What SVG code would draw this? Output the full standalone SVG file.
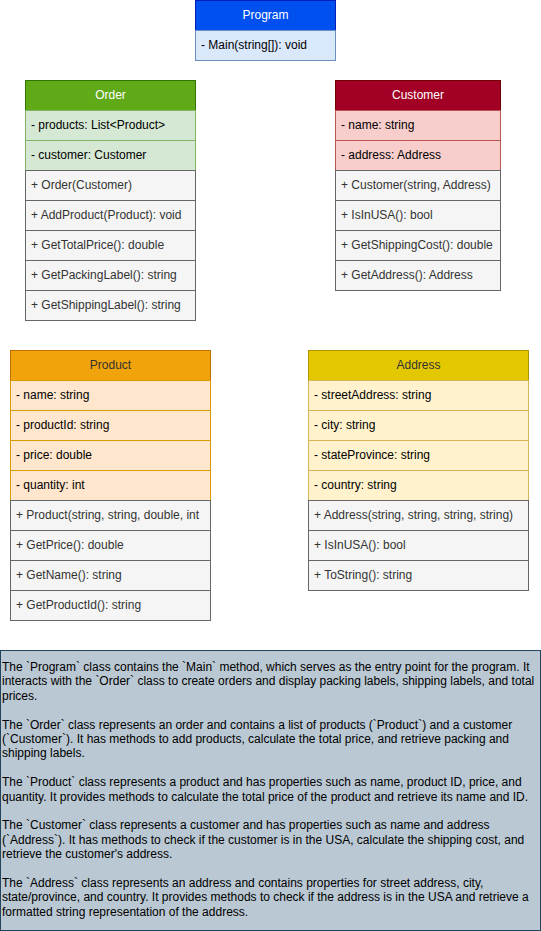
<svg xmlns="http://www.w3.org/2000/svg" width="541" height="931" viewBox="0 0 541 931">
<style>
text{font-family:"Liberation Sans",Arial,sans-serif;font-size:12px;fill:#000}
.t{text-anchor:middle}
.w{fill:#ffffff}
.d{fill:#333333}
.m{fill:#f5f5f5;stroke:#666666}
.m text{fill:#333333}
.mt{fill:#333333}
rect{stroke-width:1}
</style>
<rect width="541" height="931" fill="#ffffff"/>
<g id="connectors"/>
<g id="program">
<rect x="195.5" y="0.5" width="140" height="30" fill="#0050ef" stroke="#001dbc"/>
<rect x="195.5" y="30.5" width="140" height="30" fill="#dae8fc" stroke="#6c8ebf"/>
<text x="265.5" y="19" class="t w">Program</text>
<text x="201" y="49">- Main(string[]): void</text>
</g>
<g id="order">
<rect x="25.5" y="80.5" width="170" height="30" fill="#60a917" stroke="#2d7600"/>
<rect x="25.5" y="110.5" width="170" height="30" fill="#d5e8d4" stroke="#82b366"/>
<rect x="25.5" y="140.5" width="170" height="30" fill="#d5e8d4" stroke="#82b366"/>
<rect x="25.5" y="170.5" width="170" height="30" class="m"/>
<rect x="25.5" y="200.5" width="170" height="30" class="m"/>
<rect x="25.5" y="230.5" width="170" height="30" class="m"/>
<rect x="25.5" y="260.5" width="170" height="30" class="m"/>
<rect x="25.5" y="290.5" width="170" height="30" class="m"/>
<text x="110.5" y="99" class="t w">Order</text>
<text x="31" y="129">- products: List&lt;Product&gt;</text>
<text x="31" y="159">- customer: Customer</text>
<text x="31" y="189" class="mt">+ Order(Customer)</text>
<text x="31" y="219" class="mt">+ AddProduct(Product): void</text>
<text x="31" y="249" class="mt">+ GetTotalPrice(): double</text>
<text x="31" y="279" class="mt">+ GetPackingLabel(): string</text>
<text x="31" y="309" class="mt">+ GetShippingLabel(): string</text>
</g>
<g id="customer">
<rect x="335.5" y="80.5" width="165" height="30" fill="#a20025" stroke="#6f0000"/>
<rect x="335.5" y="110.5" width="165" height="30" fill="#f8cecc" stroke="#b85450"/>
<rect x="335.5" y="140.5" width="165" height="30" fill="#f8cecc" stroke="#b85450"/>
<rect x="335.5" y="170.5" width="165" height="30" class="m"/>
<rect x="335.5" y="200.5" width="165" height="30" class="m"/>
<rect x="335.5" y="230.5" width="165" height="30" class="m"/>
<rect x="335.5" y="260.5" width="165" height="30" class="m"/>
<text x="418" y="99" class="t w">Customer</text>
<text x="341" y="129">- name: string</text>
<text x="341" y="159">- address: Address</text>
<text x="341" y="189" class="mt">+ Customer(string, Address)</text>
<text x="341" y="219" class="mt">+ IsInUSA(): bool</text>
<text x="341" y="249" class="mt">+ GetShippingCost(): double</text>
<text x="341" y="279" class="mt">+ GetAddress(): Address</text>
</g>
<g id="product">
<rect x="10.5" y="350.5" width="200" height="30" fill="#f0a30a" stroke="#bd7000"/>
<rect x="10.5" y="380.5" width="200" height="30" fill="#ffe6cc" stroke="#d79b00"/>
<rect x="10.5" y="410.5" width="200" height="30" fill="#ffe6cc" stroke="#d79b00"/>
<rect x="10.5" y="440.5" width="200" height="30" fill="#ffe6cc" stroke="#d79b00"/>
<rect x="10.5" y="470.5" width="200" height="30" fill="#ffe6cc" stroke="#d79b00"/>
<rect x="10.5" y="500.5" width="200" height="30" class="m"/>
<rect x="10.5" y="530.5" width="200" height="30" class="m"/>
<rect x="10.5" y="560.5" width="200" height="30" class="m"/>
<rect x="10.5" y="590.5" width="200" height="30" class="m"/>
<text x="110.5" y="369" class="t d">Product</text>
<text x="16" y="399">- name: string</text>
<text x="16" y="429">- productId: string</text>
<text x="16" y="459">- price: double</text>
<text x="16" y="489">- quantity: int</text>
<text x="16" y="519" class="mt">+ Product(string, string, double, int</text>
<text x="16" y="549" class="mt">+ GetPrice(): double</text>
<text x="16" y="579" class="mt">+ GetName(): string</text>
<text x="16" y="609" class="mt">+ GetProductId(): string</text>
</g>
<g id="address">
<rect x="308.5" y="350.5" width="220" height="30" fill="#e3c800" stroke="#b09500"/>
<rect x="308.5" y="380.5" width="220" height="30" fill="#fff2cc" stroke="#d6b656"/>
<rect x="308.5" y="410.5" width="220" height="30" fill="#fff2cc" stroke="#d6b656"/>
<rect x="308.5" y="440.5" width="220" height="30" fill="#fff2cc" stroke="#d6b656"/>
<rect x="308.5" y="470.5" width="220" height="30" fill="#fff2cc" stroke="#d6b656"/>
<rect x="308.5" y="500.5" width="220" height="30" class="m"/>
<rect x="308.5" y="530.5" width="220" height="30" class="m"/>
<rect x="308.5" y="560.5" width="220" height="30" class="m"/>
<text x="418.5" y="369" class="t d">Address</text>
<text x="314" y="399">- streetAddress: string</text>
<text x="314" y="429">- city: string</text>
<text x="314" y="459">- stateProvince: string</text>
<text x="314" y="489">- country: string</text>
<text x="314" y="519" class="mt">+ Address(string, string, string, string)</text>
<text x="314" y="549" class="mt">+ IsInUSA(): bool</text>
<text x="314" y="579" class="mt">+ ToString(): string</text>
</g>
<g id="description">
<rect x="0.5" y="650.5" width="540" height="280" fill="#bac8d3" stroke="#23445d"/>
<text x="2" y="671">The `Program` class contains the `Main` method, which serves as the entry point for the program. It</text>
<text x="2" y="685.4">interacts with the `Order` class to create orders and display packing labels, shipping labels, and total</text>
<text x="2" y="699.8">prices.</text>
<text x="2" y="728.6">The `Order` class represents an order and contains a list of products (`Product`) and a customer</text>
<text x="2" y="743">(`Customer`). It has methods to add products, calculate the total price, and retrieve packing and</text>
<text x="2" y="757.4">shipping labels.</text>
<text x="2" y="786.2">The `Product` class represents a product and has properties such as name, product ID, price, and</text>
<text x="2" y="800.6">quantity. It provides methods to calculate the total price of the product and retrieve its name and ID.</text>
<text x="2" y="829.4">The `Customer` class represents a customer and has properties such as name and address</text>
<text x="2" y="843.8">(`Address`). It has methods to check if the customer is in the USA, calculate the shipping cost, and</text>
<text x="2" y="858.2">retrieve the customer's address.</text>
<text x="2" y="887">The `Address` class represents an address and contains properties for street address, city,</text>
<text x="2" y="901.4">state/province, and country. It provides methods to check if the address is in the USA and retrieve a</text>
<text x="2" y="915.8">formatted string representation of the address.</text>
</g>
</svg>
